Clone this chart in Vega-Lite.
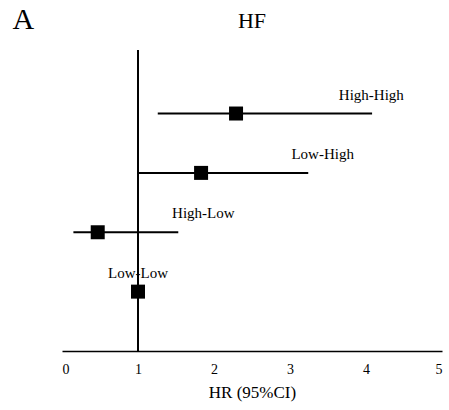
{
  "$schema": "https://vega.github.io/schema/vega-lite/v6.json",
  "width": 380,
  "height": 301,
  "autosize": {"type": "none"},
  "padding": {"left": 62, "top": 50, "right": 7, "bottom": 59},
  "background": "white",
  "config": {"view": {"stroke": null}, "font": "Liberation Serif"},
  "title": {"text": "HF", "fontSize": 22, "font": "Liberation Serif", "fontWeight": "normal", "color": "black", "anchor": "middle", "offset": 16, "dy": 45},
  "data": {"values": [
    {"group": "High-High", "pos": 4, "hr": 2.29, "lo": 1.26, "hi": 4.08, "label_x": 4.07},
    {"group": "Low-High", "pos": 3, "hr": 1.83, "lo": 1.0, "hi": 3.24, "label_x": 3.43},
    {"group": "High-Low", "pos": 2, "hr": 0.47, "lo": 0.15, "hi": 1.53, "label_x": 1.86},
    {"group": "Low-Low", "pos": 1, "hr": 1.0, "lo": null, "hi": null, "label_x": 1.0}
  ]},
  "encoding": {
    "y": {"field": "pos", "type": "quantitative", "scale": {"domain": [0, 5.07], "nice": false, "zero": false},
      "axis": {"domain": false, "ticks": false, "labels": false, "grid": false, "title": "A", "titleAngle": 0, "titleX": -50, "titleY": -22, "titleAlign": "left", "titleBaseline": "alphabetic", "titleFontSize": 30, "titleFontWeight": "normal", "titleColor": "black", "titleFont": "Liberation Serif"}}
  },
  "layer": [
    {"mark": {"type": "rule", "color": "black", "strokeWidth": 1.5},
     "encoding": {"x": {"datum": 1, "type": "quantitative", "scale": {"domain": [0, 5], "nice": false},
       "axis": {"values": [0, 1, 2, 3, 4, 5], "format": "d", "grid": false, "ticks": false, "domainColor": "black", "domainWidth": 1.5, "labelColor": "black", "labelFontSize": 14, "labelPadding": 11, "labelFont": "Liberation Serif", "title": "HR (95%CI)", "titleFontSize": 17, "titleFontWeight": "normal", "titleColor": "black", "titlePadding": 8, "titleFont": "Liberation Serif"}},
       "y": {"value": 0}, "y2": {"value": 301}}},
    {"transform": [{"filter": "datum.lo != null"}],
     "mark": {"type": "rule", "color": "black", "strokeWidth": 2},
     "encoding": {"x": {"field": "lo", "type": "quantitative"}, "x2": {"field": "hi"}}},
    {"mark": {"type": "point", "shape": "square", "filled": true, "color": "black", "size": 196, "opacity": 1},
     "encoding": {"x": {"field": "hr", "type": "quantitative"}}},
    {"mark": {"type": "text", "font": "Liberation Serif", "fontSize": 15, "color": "black", "dy": -19, "baseline": "middle"},
     "encoding": {"x": {"field": "label_x", "type": "quantitative"}, "text": {"field": "group"}}}
  ]
}
